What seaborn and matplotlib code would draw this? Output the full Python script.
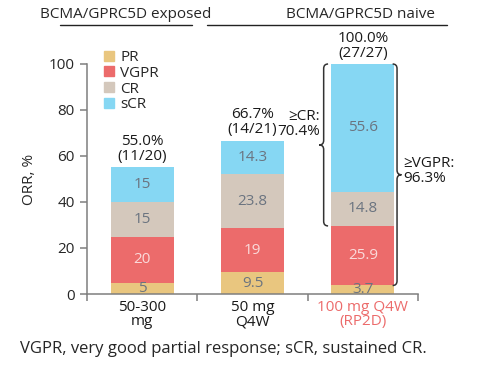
import numpy as np
import pandas as pd
import seaborn as sns
import matplotlib.pyplot as plt
from matplotlib.path import Path
from matplotlib.patches import PathPatch, Patch

sns.set_style("white")
plt.rcParams['font.family'] = ['Open Sans', 'DejaVu Sans']

# data
doses = ["50-300\nmg", "50 mg\nQ4W", "100 mg Q4W\n(RP2D)"]
responses = ["PR", "VGPR", "CR", "sCR"]
pr = [5, 9.5, 3.7]
vgpr = [20, 19, 25.9]
cr = [15, 23.8, 14.8]
scr = [15, 14.3, 55.6]
orr_text = ["55.0%\n(11/20)", "66.7%\n(14/21)", "100.0%\n(27/27)"]
ge_cr = "70.4%"
ge_vgpr = "96.3%"
groups = ["BCMA/GPRC5D exposed", "BCMA/GPRC5D naive"]
footnote = "VGPR, very good partial response; sCR, sustained CR."

colors = {"PR": "#E9C67F", "VGPR": "#EC6B6B", "CR": "#D4C8BC", "sCR": "#86D7F3"}
txt_col = {"PR": "#6B7480", "VGPR": "#FADADA", "CR": "#6B7480", "sCR": "#6B7480"}
red = "#EC6B6B"
fs = 11

df = pd.DataFrame({"dose": doses, "PR": pr, "VGPR": vgpr, "CR": cr, "sCR": scr})
cum = df[responses].cumsum(axis=1)

fig = plt.figure(figsize=(4.78, 3.67), dpi=100)
ax = fig.add_axes([87 / 478, 1 - 294 / 367, 331 / 478, 230 / 367])

# stacked bars: draw cumulative totals, tallest first
for r in reversed(responses):
    sns.barplot(x=df["dose"], y=cum[r], color=colors[r], width=0.57,
                saturation=1, ax=ax, linewidth=0)

# segment value labels
for i in range(len(doses)):
    base = 0
    for r in responses:
        v = df[r][i]
        ax.text(i, base + v / 2, f"{v:g}", ha="center", va="center",
                fontsize=fs, color=txt_col[r])
        base += v
    ax.text(i, cum["sCR"][i] + 1.5, orr_text[i], ha="center", va="bottom",
            fontsize=fs, color="#1A1A1A", linespacing=1.0)


def brace(ax, x, y0, y1, w, h, side):
    # curly brace along y between y0 and y1; side=-1 tip left, +1 tip right
    s = side
    m = (y0 + y1) / 2
    verts = [(x - s * w, y1), (x, y1), (x, y1 - h),
             (x, m + h), (x, m), (x + s * w, m),
             (x, m), (x, m - h),
             (x, y0 + h), (x, y0), (x - s * w, y0)]
    codes = [Path.MOVETO, Path.CURVE3, Path.CURVE3,
             Path.LINETO, Path.CURVE3, Path.CURVE3,
             Path.CURVE3, Path.CURVE3,
             Path.LINETO, Path.CURVE3, Path.CURVE3]
    ax.add_patch(PathPatch(Path(verts, codes), fill=False, lw=1.1,
                           color="#333333", clip_on=False))
    return m


top = cum["sCR"][2]
m1 = brace(ax, 1.645, cum["VGPR"][2], top, 0.04, 2.0, -1)
ax.text(1.61, m1 + 9, "\u2265CR:\n" + ge_cr, ha="right", va="center",
        fontsize=fs, color="#1A1A1A", linespacing=1.0)
m2 = brace(ax, 2.31, cum["PR"][2], top, 0.04, 2.0, 1)
ax.text(2.37, m2 + 1.5, "\u2265VGPR:\n" + ge_vgpr, ha="left", va="center",
        fontsize=fs, color="#1A1A1A", linespacing=1.0)

ax.set_xlim(-0.5, 2.5)
ax.set_ylim(0, 100)
ax.set_yticks([0, 20, 40, 60, 80, 100])
ax.set_xlabel("")
ax.set_ylabel("ORR, %", fontsize=fs, labelpad=8)
sns.despine(ax=ax)
for sp in ["left", "bottom"]:
    ax.spines[sp].set_color("#7F7F7F")
    ax.spines[sp].set_linewidth(1.1)
ax.tick_params(axis="y", length=5, width=1.1, color="#7F7F7F", labelsize=fs, pad=4,
               left=True, direction="out")
ax.set_xticks([0, 1, 2])
ax.set_xticklabels(doses, fontsize=fs, linespacing=0.95, color="#1A1A1A")
ax.tick_params(axis="x", length=0, pad=4)
ax.set_xticks([-0.5, 0.5, 1.5, 2.5], minor=True)
ax.tick_params(axis="x", which="minor", length=5, width=1.1, color="#7F7F7F",
               bottom=True, direction="out")
ax.get_xticklabels()[2].set_color(red)

handles = [Patch(color=colors[r], label=r) for r in responses]
fig.legend(handles=handles, loc="upper left", bbox_to_anchor=(104 / 478, 1 - 50 / 367),
           frameon=False, fontsize=fs, handlelength=0.65, handleheight=0.65,
           labelspacing=0.05, handletextpad=0.4, borderpad=0, borderaxespad=0)

# group headers
fig.text(126 / 478, 1 - 14 / 367, groups[0], ha="center", va="center", fontsize=fs)
fig.text(360 / 478, 1 - 14 / 367, groups[1], ha="center", va="center", fontsize=fs)
fig.add_artist(plt.Line2D([60 / 478, 192 / 478], [1 - 25 / 367] * 2, color="#222222", lw=1))
fig.add_artist(plt.Line2D([207 / 478, 447 / 478], [1 - 25 / 367] * 2, color="#222222", lw=1))

fig.text(20 / 478, 1 - 349 / 367, footnote, ha="left", va="center", fontsize=12)

fig.savefig("out.png", dpi=100, facecolor="white")
